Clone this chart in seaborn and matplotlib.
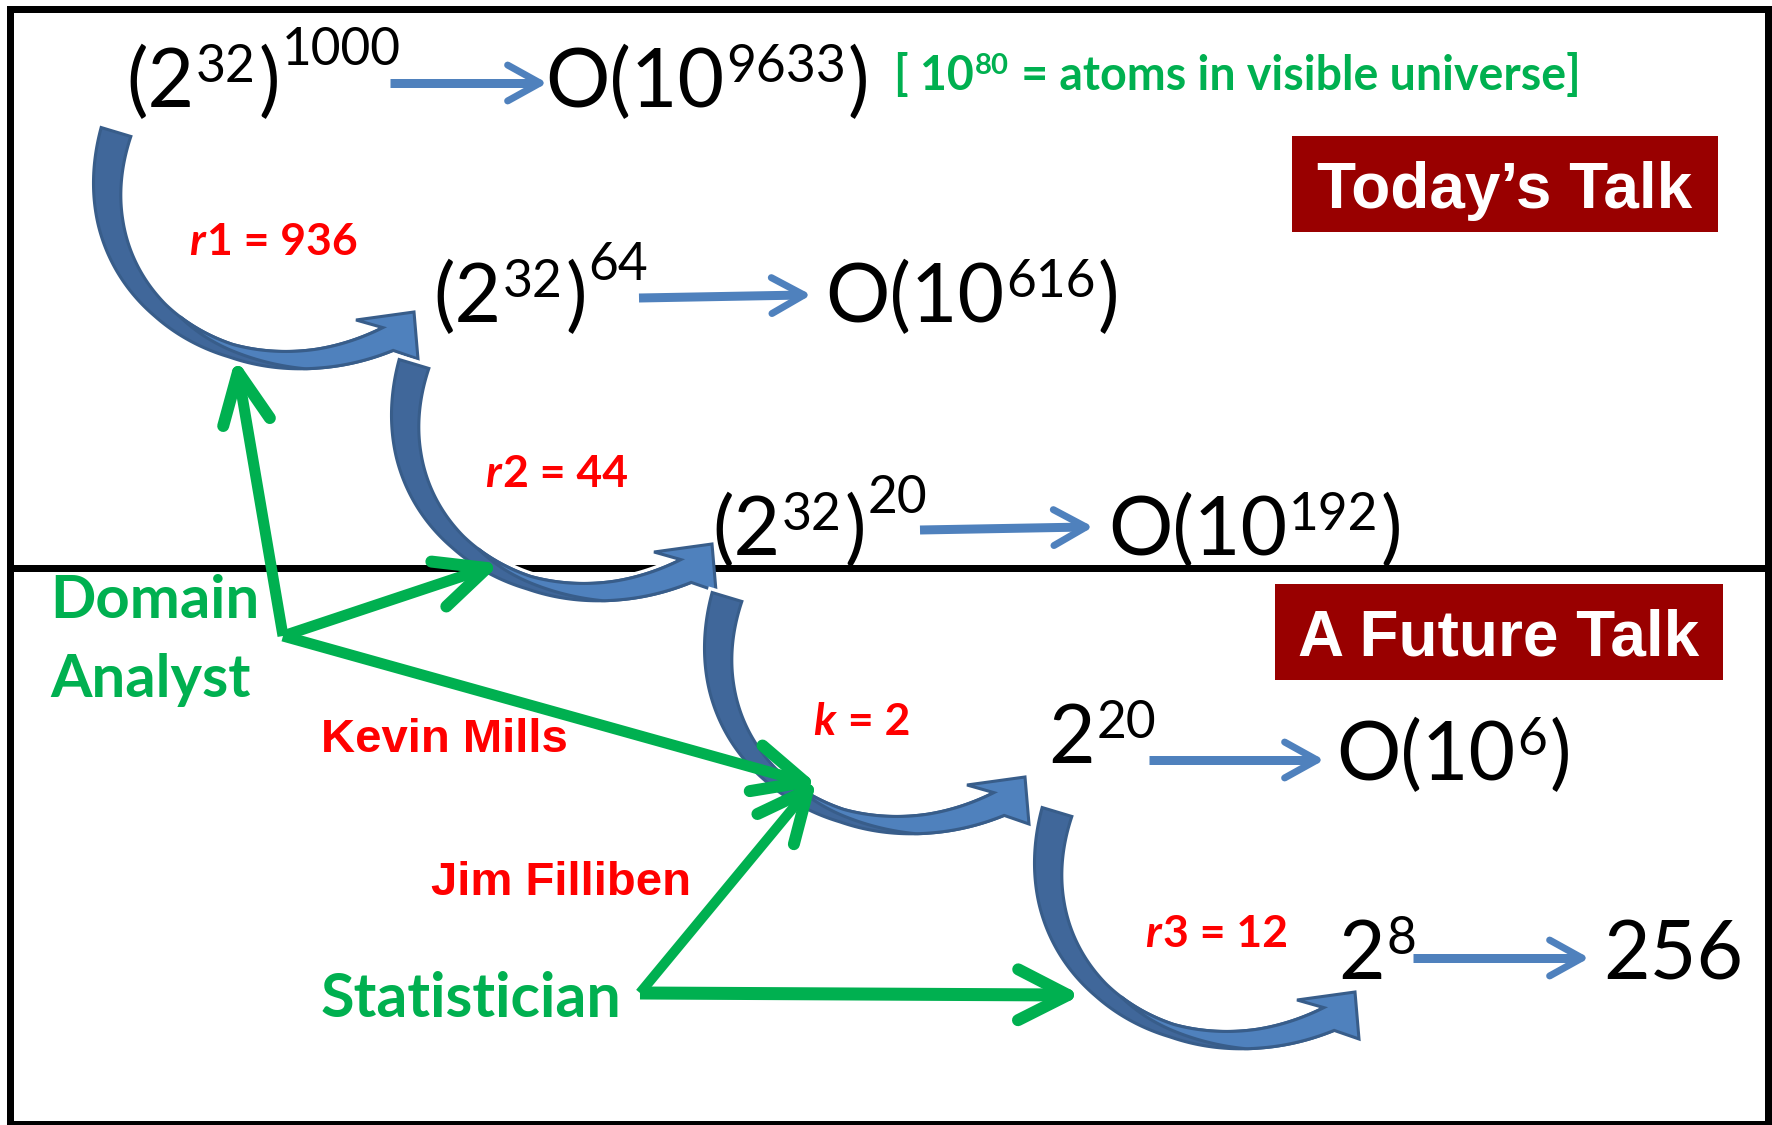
import re
import numpy as np
import matplotlib
matplotlib.use("Agg")
import matplotlib.pyplot as plt
import matplotlib.patheffects as pe
from matplotlib.patches import Polygon, Rectangle
import seaborn as sns

# ---- content of the diagram ----
sizes_left = ["(2^32)^1000", "(2^32)^64", "(2^32)^20", "2^20", "2^8"]
sizes_right = ["O(10^9633)", "O(10^616)", "O(10^192)", "O(10^6)", "256"]
reductions = ["r1 = 936", "r2 = 44", "k = 2", "r3 = 12"]
people = ["Kevin Mills", "Jim Filliben"]
roles = ["Domain\nAnalyst", "Statistician"]
talks = ["Today\u2019s Talk", "A Future Talk"]
note = "[ 10^80 = atoms in visible universe]"

# ---- layout (pixel coordinates of the 1772x1125 canvas) ----
left_xy = [(126, 107), (433, 322), (712, 555), (1048, 763), (1338, 979)]
right_xy = [(545, 107), (825, 322), (1108, 555), (1336, 780), (1603, 980)]
step_arrows = [(390, 83, 540, 83), (639, 298, 804, 295), (920, 530, 1086, 527),
               (1149, 760, 1317, 760), (1413, 958, 1582, 958)]
curve_offsets = [(0, 0), (298, 232), (611, 465), (941, 680)]
reduction_xy = [(189, 255), (485, 487), (813, 735), (1145, 947)]
people_xy = [(321, 752), (431, 895)]
role_xy = [(50, 618), (321, 1017)]
role_sizes = [43, 44]
talk_boxes = [(1292, 136, 1718, 232), (1275, 584, 1723, 680)]
talk_baselines = [208, 655]

BLUE = "#4F81BD"
BLUE_DARK = "#40679A"
BLUE_EDGE = "#385D8A"
GREEN = "#00B050"
RED = "#FF0000"
BOX = "#990000"
PX = 0.72  # points per pixel at dpi 100

sns.set_theme(style="white")
plt.rcParams["font.family"] = ["Lato", "DejaVu Sans"]

fig = plt.figure(figsize=(17.72, 11.25), dpi=100)
ax = fig.add_axes([0, 0, 1, 1])
ax.set_xlim(0, 1772)
ax.set_ylim(1125, 0)
ax.axis("off")
rend = fig.canvas.get_renderer()


def split_power(s):
    out = []
    for tok in re.split(r"(\^\d+)", s):
        if not tok:
            continue
        if tok.startswith("^"):
            lvl = 2 if out and out[-1][0].endswith(")") else 1
            out.append((tok[1:], lvl))
        else:
            out.append((tok, 0))
    return out


def compose(x, y, pieces, size, color, weight="normal", rise=(0, 0.43, 0.72),
            scale=0.64, gap=2, z=5):
    h = size / PX * 0.7165  # digit height in px
    for txt, lvl in pieces:
        fs = size if lvl == 0 else size * scale
        t = ax.text(x, y - rise[lvl] * h, txt, fontsize=fs, color=color,
                    fontweight=weight, ha="left", va="baseline", zorder=z)
        x += t.get_window_extent(renderer=rend).width + gap


def line_arrow(x0, y0, x1, y1, color, shaft, head, hlen, hang, z):
    d = np.array([x1 - x0, y1 - y0], float)
    u = d / np.hypot(*d)
    ax.plot([x0, x1 - u[0] * 4], [y0, y1 - u[1] * 4], color=color, lw=shaft * PX,
            solid_capstyle="butt", zorder=z)
    for s in (1, -1):
        a = np.deg2rad(hang) * s
        r = np.array([[np.cos(a), -np.sin(a)], [np.sin(a), np.cos(a)]]) @ (-u)
        ax.plot([x1, x1 + r[0] * hlen], [y1, y1 + r[1] * hlen], color=color,
                lw=head * PX, solid_capstyle="round", zorder=z)


# curved block arrow template (anchored at the first arrow)
ctrl = np.array([[116, 132], [67, 295], [233, 409], [388, 339]], float)
head = np.array([[356, 320], [414, 312], [418, 359]], float)


def bez(P, t):
    t = t[:, None]
    return (1 - t) ** 3 * P[0] + 3 * (1 - t) ** 2 * t * P[1] + 3 * (1 - t) * t ** 2 * P[2] + t ** 3 * P[3]


def bez_d(P, t):
    t = t[:, None]
    return 3 * (1 - t) ** 2 * (P[1] - P[0]) + 6 * (1 - t) * t * (P[2] - P[1]) + 3 * t ** 2 * (P[3] - P[2])


def curved_arrow(dx, dy, z):
    off = np.array([dx, dy], float)
    t = np.linspace(0, 1, 160)
    c = bez(ctrl, t) + off
    d = bez_d(ctrl, t)
    d /= np.linalg.norm(d, axis=1)[:, None]
    n = np.column_stack([-d[:, 1], d[:, 0]])
    w = np.interp(t, [0, .2, .45, .65, .85, 1], [31, 25, 16, 13, 19, 25])[:, None] / 2
    outer = c + n * w
    inner = c - n * w
    ax.add_patch(Polygon(np.vstack([outer, inner[::-1]]), closed=True, fc=BLUE_DARK,
                         ec=BLUE_EDGE, lw=2.2, zorder=z, joinstyle="miter",
                         path_effects=[pe.Stroke(linewidth=7, foreground="white"), pe.Normal()]))
    m = t >= 0.5
    s = np.clip((t[m] - 0.5) / 0.32, 0, 1)[:, None]
    front_out = c[m] + n[m] * w[m] * (2 * s - 1)
    poly = np.vstack([front_out, head[[2, 1, 0]] + off, inner[m][::-1]])
    ax.add_patch(Polygon(poly, closed=True, fc=BLUE, ec=BLUE_EDGE, lw=2.2,
                         zorder=z + 0.1, joinstyle="miter"))


# frame and divider
ax.add_patch(Rectangle((10.5, 8.5), 1758, 1115, fill=False, ec="black", lw=7 * PX,
                       zorder=1, clip_on=False))
ax.plot([10, 1768], [568, 568], color="black", lw=7 * PX, zorder=1)

# curved block arrows
for i, (dx, dy) in enumerate(curve_offsets):
    curved_arrow(dx, dy, 2 + i * 0.3)

# size chain
for s, (x, y) in zip(sizes_left, left_xy):
    compose(x, y, split_power(s), 58, "black", z=6)
for s, (x, y) in zip(sizes_right, right_xy):
    compose(x, y, split_power(s), 58, "black", z=6)
for x0, y0, x1, y1 in step_arrows:
    line_arrow(x0, y0, x1, y1, BLUE, 9, 7, 37, 29, 4)

compose(894, 90, split_power(note), 33.5, GREEN, weight="bold", rise=(0, 0.47, 0.72),
        scale=0.63, gap=1)

# reductions in red
for s, (x, y) in zip(reductions, reduction_xy):
    t = ax.text(x, y, s[0], fontsize=32, color=RED, fontweight="bold", fontstyle="italic",
                ha="left", va="baseline", zorder=6)
    x += t.get_window_extent(renderer=rend).width + 2
    ax.text(x, y, s[1:], fontsize=32, color=RED, fontweight="bold", ha="left",
            va="baseline", zorder=6)

for s, (x, y) in zip(people, people_xy):
    ax.text(x, y, s, fontsize=34, color=RED, fontweight="bold", ha="left",
            va="baseline", family=["Liberation Sans", "DejaVu Sans"], zorder=6)

for s, (x, y), fs in zip(roles, role_xy, role_sizes):
    for k, line in enumerate(s.split("\n")):
        ax.text(x, y + k * 79, line, fontsize=fs, color=GREEN, fontweight="bold",
                ha="left", va="baseline", zorder=6)

# talk boxes
for s, (x0, y0, x1, y1), yb in zip(talks, talk_boxes, talk_baselines):
    ax.add_patch(Rectangle((x0, y0), x1 - x0, y1 - y0, fc=BOX, ec="none", zorder=3))
    ax.text((x0 + x1) / 2, yb, s, fontsize=46, color="white", fontweight="bold",
            ha="center", va="baseline", family=["Liberation Sans", "DejaVu Sans"], zorder=6)

# green role arrows
dom = (283, 636)
stat = (640, 993)
line_arrow(*dom, 238, 372, GREEN, 11, 12, 56, 25, 7)
line_arrow(*dom, 487, 568, GREEN, 11, 12, 56, 25, 7)
line_arrow(*dom, 805, 782, GREEN, 11, 12, 56, 25, 7)
line_arrow(*stat, 808, 790, GREEN, 10, 12, 56, 25, 7)
line_arrow(*stat, 1068, 995, GREEN, 13, 12, 56, 27, 7)

fig.savefig("out.png", dpi=100, facecolor="white")
